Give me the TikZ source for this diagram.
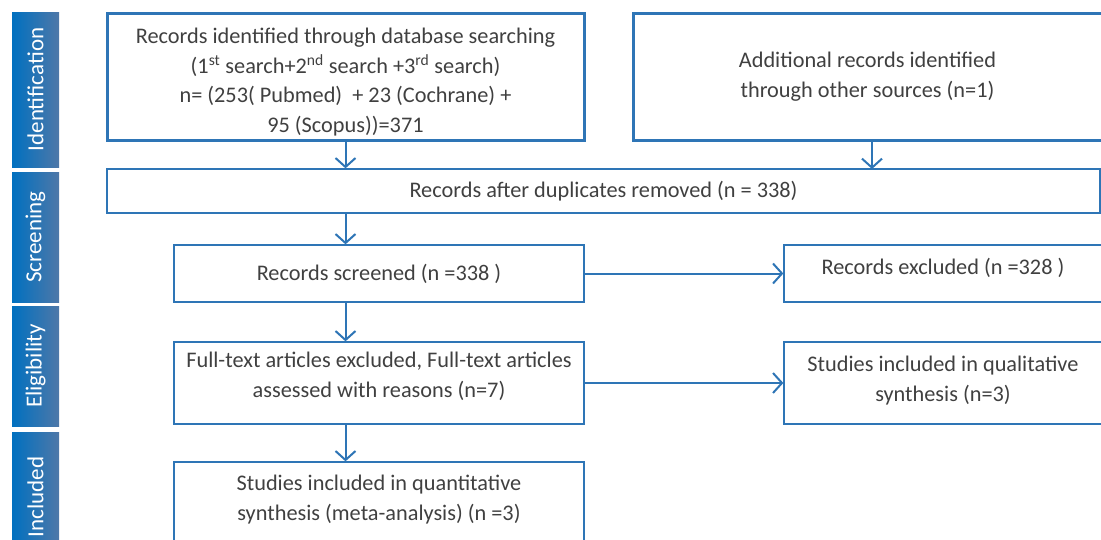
\documentclass[tikz,border=0pt]{standalone}
\usepackage{fontspec}
\setmainfont{Carlito}
\usetikzlibrary{arrows.meta, positioning, calc}
\definecolor{flowblue}{RGB}{46, 117, 182}
\definecolor{bartop}{RGB}{0, 112, 192}
\definecolor{barbottom}{RGB}{78, 120, 168}
\definecolor{txtgray}{RGB}{64, 64, 64}

\begin{document}
\begin{tikzpicture}[
  x=1pt, y=-1pt,
  flowbox/.style={draw=flowblue, line width=1.3pt, align=center, text=txtgray, font=\fontsize{22.3}{29.5}\selectfont, inner sep=0pt},
  bigbox/.style={flowbox, line width=3pt},
  phase/.style={rotate=90, minimum height=47pt, inner sep=0pt, top color=bartop, bottom color=barbottom, shading angle=90, text=white, font=\fontsize{23}{27}\selectfont},
  flowarrow/.style={draw=flowblue, line width=2pt, -{Straight Barb[length=9pt, width=20pt, line width=2pt]}}
]
  \useasboundingbox (0,0) rectangle (1101,539);

  \node[phase, minimum width=155pt] (ident) at (35.5, 89.5) {Identification};
  \node[phase, minimum width=130pt] (screen) at (35.5, 237) {Screening};
  \node[phase, minimum width=120pt] (elig) at (35.5, 366) {Eligibility};
  \node[phase, minimum width=130pt] (incl) at (35.5, 497) {Included};

  \node[bigbox, minimum width=477pt, minimum height=127pt, text height=117pt, text depth=5.5pt] (database) at (345.5, 76.5) {
    Records identified through database searching\\
    (1\textsuperscript{st} search+2\textsuperscript{nd} search +3\textsuperscript{rd} search)\\
    n= (253( Pubmed)~ + 23 (Cochrane) +\\
    95 (Scopus))=371
  };
  \node[bigbox, minimum width=469pt, minimum height=127pt] (other) at (867.5, 76.5) {
    Additional records identified\\
    through other sources (n=1)
  };
  \node[flowbox, minimum width=993pt, minimum height=44pt] (dupl) at (603.5, 191) {Records after duplicates removed (n = 338)};

  \node[flowbox, minimum width=410pt, minimum height=57pt] (screened) at (379, 273.5) {Records screened (n =338 )};
  \node[flowbox, minimum width=318pt, minimum height=57pt, text depth=14.5pt] (excluded) at (943, 273.5) {Records excluded (n =328 )};

  \node[flowbox, minimum width=410pt, minimum height=82pt, text depth=16.5pt] (fulltext) at (379, 383) {
    Full-text articles excluded, Full-text articles\\
    assessed with reasons (n=7)
  };
  \node[flowbox, minimum width=318pt, minimum height=82pt, text depth=8.5pt] (qualit) at (943, 383) {
    Studies included in qualitative\\
    synthesis (n=3)
  };
  \node[flowbox, minimum width=410pt, minimum height=100pt, text depth=29pt] (quantit) at (379, 512) {
    Studies included in quantitative\\
    synthesis (meta-analysis) (n =3)
  };

  \draw[flowarrow] (database.south) -- (database.south |- dupl.north);
  \draw[flowarrow] (other.south -| 872,0) -- (872, 169);
  \draw[flowarrow] (database.south |- dupl.south) -- (database.south |- screened.north);
  \draw[flowarrow] (database.south |- screened.south) -- (database.south |- fulltext.north);
  \draw[flowarrow] (database.south |- fulltext.south) -- (database.south |- quantit.north);
  \draw[flowarrow] (screened.east) -- (excluded.west);
  \draw[flowarrow] (fulltext.east) -- (qualit.west);
\end{tikzpicture}
\end{document}
